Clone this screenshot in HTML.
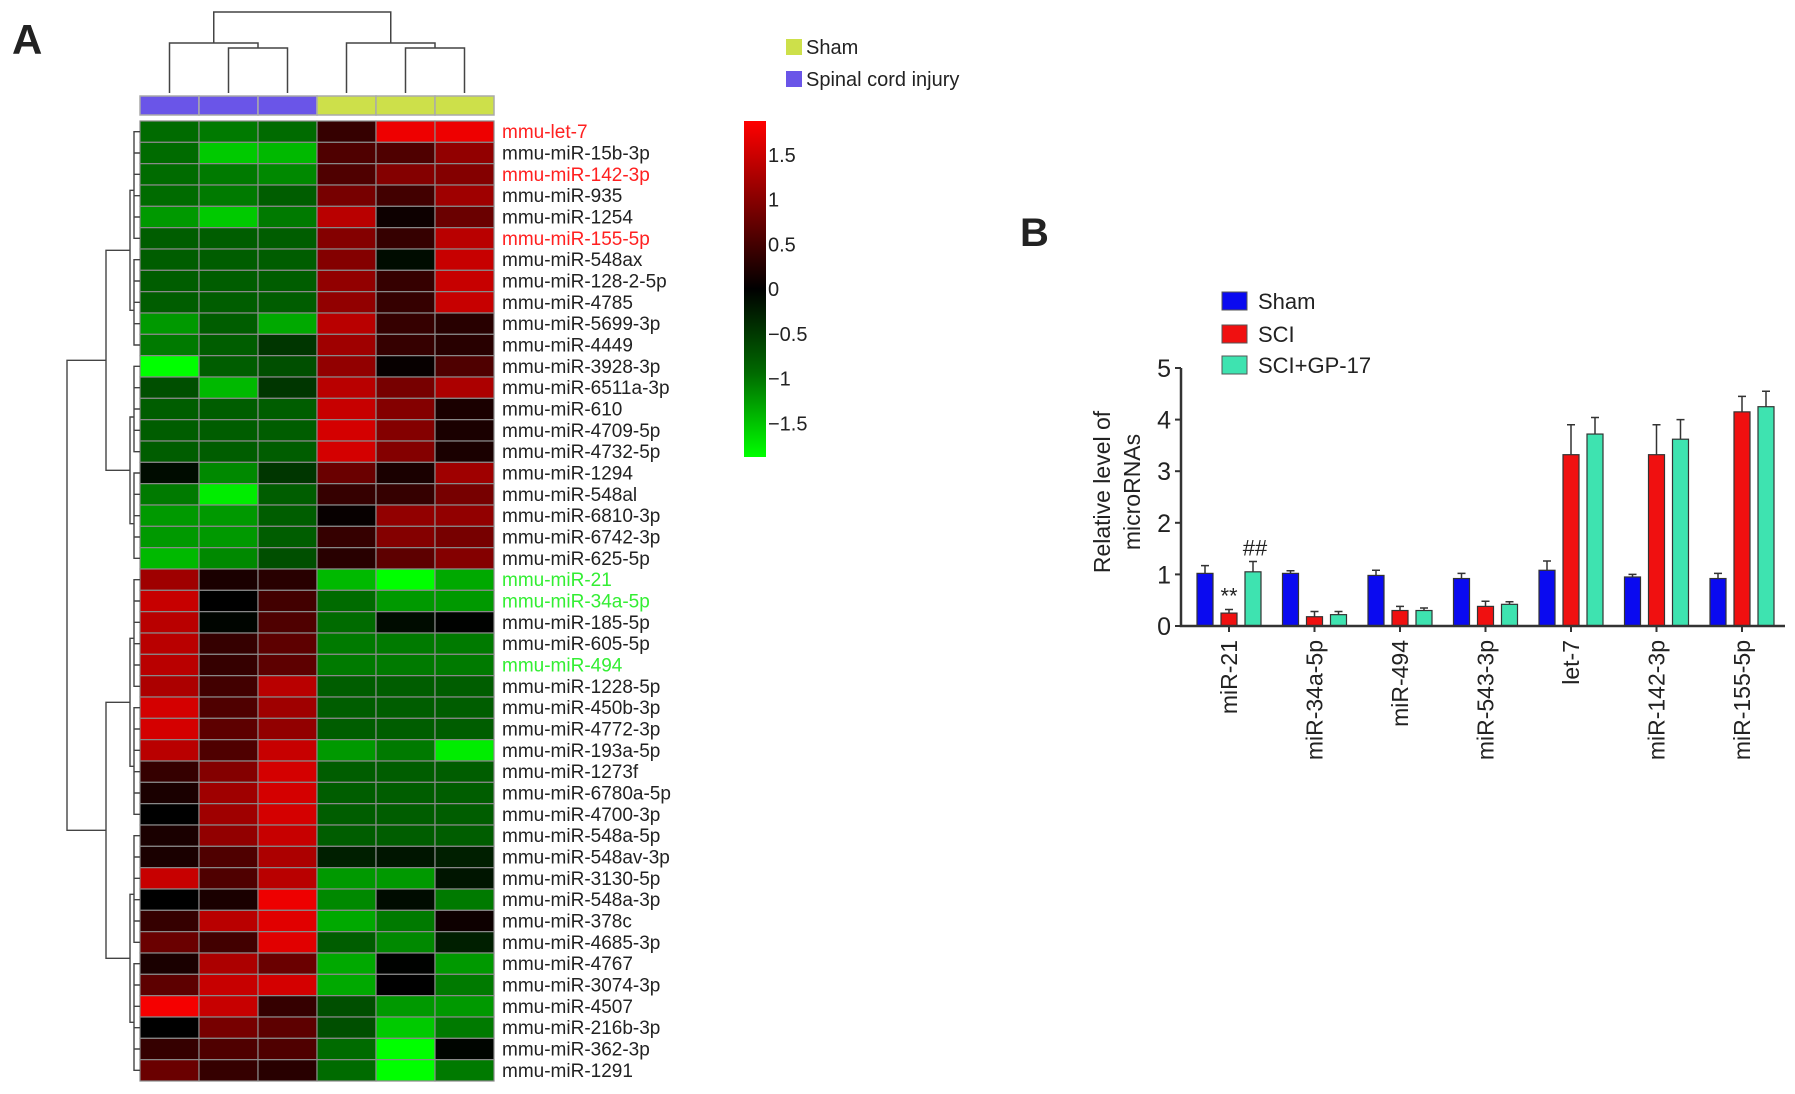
<!DOCTYPE html>
<html><head><meta charset="utf-8"><style>
body{margin:0;background:#fff;}
svg{display:block;font-family:"Liberation Sans",Arial,sans-serif;}
</style></head><body>
<svg id="fig" width="1795" height="1094" viewBox="0 0 1795 1094">
<text x="12" y="54" font-size="42" font-weight="bold" fill="#222">A</text>
<text x="1020" y="246" font-size="40" font-weight="bold" fill="#222">B</text>
<g id="heat"></g>
<g id="bars"></g>
</svg>
<script>
const NS="http://www.w3.org/2000/svg";
function mk(tag,attrs,parent,text){const e=document.createElementNS(NS,tag);for(const k in attrs)e.setAttribute(k,attrs[k]);if(text!==undefined)e.textContent=text;parent.appendChild(e);return e;}

// ---------- Heatmap data ----------
const rowLabels=["mmu-let-7","mmu-miR-15b-3p","mmu-miR-142-3p","mmu-miR-935","mmu-miR-1254","mmu-miR-155-5p","mmu-miR-548ax","mmu-miR-128-2-5p","mmu-miR-4785","mmu-miR-5699-3p","mmu-miR-4449","mmu-miR-3928-3p","mmu-miR-6511a-3p","mmu-miR-610","mmu-miR-4709-5p","mmu-miR-4732-5p","mmu-miR-1294","mmu-miR-548al","mmu-miR-6810-3p","mmu-miR-6742-3p","mmu-miR-625-5p","mmu-miR-21","mmu-miR-34a-5p","mmu-miR-185-5p","mmu-miR-605-5p","mmu-miR-494","mmu-miR-1228-5p","mmu-miR-450b-3p","mmu-miR-4772-3p","mmu-miR-193a-5p","mmu-miR-1273f","mmu-miR-6780a-5p","mmu-miR-4700-3p","mmu-miR-548a-5p","mmu-miR-548av-3p","mmu-miR-3130-5p","mmu-miR-548a-3p","mmu-miR-378c","mmu-miR-4685-3p","mmu-miR-4767","mmu-miR-3074-3p","mmu-miR-4507","mmu-miR-216b-3p","mmu-miR-362-3p","mmu-miR-1291"];
const redRows=["mmu-let-7","mmu-miR-142-3p","mmu-miR-155-5p"];
const greenRows=["mmu-miR-21","mmu-miR-34a-5p","mmu-miR-494"];
const colGroups=["SCI","SCI","SCI","Sham","Sham","Sham"];
const heatValues=[
[-1,-1.1,-1,0.4,1.8,1.8],[-1,-1.6,-1.5,0.6,0.6,1.1],[-1,-1.1,-1.2,0.6,1.0,1.0],[-1,-1.1,-0.9,0.9,0.5,1.2],
[-1.3,-1.6,-1.1,1.4,0.1,0.8],[-0.9,-0.9,-0.9,1.0,0.4,1.4],[-0.9,-0.9,-0.9,1.0,-0.2,1.5],[-0.9,-0.9,-0.9,1.1,0.4,1.5],
[-0.9,-0.9,-0.9,1.1,0.4,1.5],[-1.3,-0.9,-1.4,1.4,0.4,0.3],[-1.1,-0.9,-0.6,1.2,0.4,0.3],[-1.9,-0.9,-0.8,1.1,0.05,0.6],
[-0.8,-1.5,-0.6,1.4,0.9,1.3],[-0.9,-0.9,-0.9,1.5,1.0,0.2],[-0.9,-0.9,-0.9,1.6,1.0,0.2],[-0.9,-0.9,-0.9,1.6,1.0,0.2],
[-0.2,-1.2,-0.6,0.8,0.2,1.2],[-1.1,-1.8,-0.9,0.4,0.4,0.9],[-1.3,-1.3,-0.9,0.05,1.1,1.1],[-1.3,-1.3,-0.9,0.4,1.0,0.9],
[-1.5,-1.2,-0.8,0.3,0.7,1.0],[1.2,0.2,0.3,-1.5,-1.9,-1.4],[1.5,0.0,0.5,-1.0,-1.3,-1.3],[1.4,-0.1,0.6,-1.0,-0.2,-0.05],
[1.4,0.4,0.7,-1.1,-1.1,-1.1],[1.4,0.4,0.7,-1.1,-1.1,-1.1],[1.3,0.5,1.4,-0.9,-0.9,-0.9],[1.6,0.6,1.2,-0.9,-0.9,-0.9],
[1.6,0.7,1.1,-0.9,-0.9,-0.9],[1.4,0.6,1.5,-1.3,-1.1,-1.8],[0.4,1.0,1.6,-0.9,-0.9,-0.9],[0.2,1.2,1.6,-0.9,-0.9,-0.9],
[0.0,1.2,1.6,-0.9,-0.9,-0.9],[0.2,1.1,1.5,-0.9,-0.9,-0.9],[0.2,0.6,1.3,-0.4,-0.3,-0.4],[1.5,0.6,1.4,-1.3,-1.3,-0.3],
[0.0,0.2,1.8,-1.2,-0.2,-1.1],[0.4,1.4,1.7,-1.4,-1.1,0.1],[0.8,0.5,1.7,-0.9,-1.2,-0.4],[0.2,1.3,0.8,-1.4,-0.05,-1.3],
[0.7,1.5,1.6,-1.4,0.0,-1.1],[1.9,1.5,0.4,-0.8,-1.3,-1.3],[0.0,0.9,0.7,-0.8,-1.6,-1.1],[0.4,0.6,0.6,-1.0,-1.9,-0.1],
[0.8,0.4,0.3,-1.0,-1.9,-1.1]];
const scaleTicks=[1.5,1,0.5,0,-0.5,-1,-1.5];

// ---------- Bar data ----------
const categories=["miR-21","miR-34a-5p","miR-494","miR-543-3p","let-7","miR-142-3p","miR-155-5p"];
const shamVals=[1.02,1.02,0.98,0.92,1.08,0.95,0.92];
const shamErr=[0.15,0.05,0.1,0.1,0.18,0.05,0.1];
const sciVals=[0.25,0.18,0.3,0.38,3.32,3.32,4.15];
const sciErr=[0.07,0.1,0.08,0.1,0.58,0.58,0.3];
const gpVals=[1.05,0.22,0.3,0.42,3.72,3.62,4.25];
const gpErr=[0.2,0.06,0.05,0.05,0.32,0.38,0.3];
const yTicks=[0,1,2,3,4,5];

// ---------- Heatmap drawing ----------
const H=document.getElementById('heat');
const hx0=140,hx1=494,hy0=121,hy1=1081;
const cw=(hx1-hx0)/colGroups.length, rh=(hy1-hy0)/rowLabels.length;
function col(v){
  if(v>=0){const t=Math.min(1,v/1.85);return `rgb(${Math.round(245*t)},0,0)`;}
  const t=Math.min(1,-v/1.9);const g=Math.round(255*Math.pow(t,1.35));return `rgb(0,${g},0)`;
}
const ann={SCI:"#6a55e8",Sham:"#cde04a"};
colGroups.forEach((g,j)=>{
  const r=mk('rect',{x:hx0+j*cw,y:96,width:cw,height:19,fill:ann[g],stroke:"#aaa","stroke-width":1.5},H);
  
  
});
heatValues.forEach((row,i)=>{
  row.forEach((v,j)=>{
    const r=mk('rect',{x:hx0+j*cw,y:hy0+i*rh,width:cw,height:rh,fill:col(v),stroke:"#8a8a8a","stroke-width":1.2},H);
    
    
  });
  const lab=rowLabels[i];
  const fill=redRows.includes(lab)?"#ff2020":greenRows.includes(lab)?"#33ee33":"#222";
  const t=mk('text',{x:502,y:hy0+i*rh+rh/2+6.5,"font-size":19,fill:fill},H,lab);
  
  
});
// color scale
const gid='cg';const defs=mk('defs',{},H);const lg=mk('linearGradient',{id:gid,x1:0,y1:0,x2:0,y2:1},defs);
[[0,"#ff0000"],[0.5,"#000000"],[0.75,"#006a00"],[1,"#00ff00"]].forEach(s=>mk('stop',{offset:s[0],"stop-color":s[1]},lg));
const cb=mk('rect',{x:744,y:121,width:22,height:336,fill:`url(#${gid})`},H);


const cy=v=>289-v*89.5;
scaleTicks.forEach(v=>{
  const t=mk('text',{x:768,y:cy(v)+7,"font-size":20,fill:"#222"},H,(v<0?"\u2212":"")+Math.abs(v));
  
  
});
// annotation legend
[["Sham","#cde04a",39],["Spinal cord injury","#6a55e8",71]].forEach(d=>{
  const r=mk('rect',{x:786,y:d[2],width:16,height:16,fill:d[1]},H);
  
  
  const t=mk('text',{x:806,y:d[2]+15,"font-size":20,fill:"#222"},H,d[0]);
  
  
});
// top dendrogram
const cx=j=>hx0+cw*(j+0.5);
const dpath=[`M${cx(1)},93V48H${cx(2)}V93`,`M${cx(0)},93V43H${(cx(1)+cx(2))/2}V48`,`M${cx(4)},93V48H${cx(5)}V93`,`M${cx(3)},93V43H${(cx(4)+cx(5))/2}V48`,`M${(cx(0)+(cx(1)+cx(2))/2)/2},43V12H${(cx(3)+(cx(4)+cx(5))/2)/2}V43`].join('');
const td=mk('path',{d:dpath,fill:"none",stroke:"#444","stroke-width":1.5},H);


// left dendrogram (approximate)
const ry=i=>hy0+rh*(i+0.5);
let lp="";
function tree(a,b,depth,xroot){
  if(a===b) return ry(a);
  const m=Math.floor((a+b)/2);
  const xc=Math.min(hx0-6,xroot+18+depth*2);
  const y1=tree(a,m,depth+1,xc), y2=tree(m+1,b,depth+1,xc);
  const xa=(a===m)?hx0:Math.min(hx0-6,xc+18+(depth+1)*2);
  const xb=(m+1===b)?hx0:Math.min(hx0-6,xc+18+(depth+1)*2);
  lp+=`M${xa},${y1}H${xc}V${y2}H${xb}`;
  return (y1+y2)/2;
}
const yA=tree(0,20,2,84), yB=tree(21,44,2,84);
const xa2=Math.min(hx0-6,84+18+4);
lp+=`M${xa2},${yA}H67V${yB}H${xa2}`;
const ld=mk('path',{d:lp,fill:"none",stroke:"#444","stroke-width":1.4},H);



// ---------- Bar chart drawing ----------
const B=document.getElementById('bars');
const ax0=1181, ax1=1785, y0=626, pxPerUnit=51.6;
const Y=v=>y0-v*pxPerUnit;
const X=i=>1229+i*85.5;
const bw=16, off=24;
const series=[[shamVals,shamErr,"#0a0af0","sham",-off],[sciVals,sciErr,"#f01010","sci",0],[gpVals,gpErr,"#3ee3b0","sci-gp17",off]];
series.forEach(s=>{
  s[0].forEach((v,i)=>{
    const xc=X(i)+s[4];
    const e=mk('path',{d:`M${xc},${Y(v)}V${Y(v+s[1][i])}M${xc-4},${Y(v+s[1][i])}H${xc+4}`,stroke:"#333","stroke-width":1.5,fill:"none"},B);
    
    
    const r=mk('rect',{x:xc-bw/2,y:Y(v),width:bw,height:Y(0)-Y(v),fill:s[2],stroke:"#333","stroke-width":1.2},B);
    
    
  });
});
const axes=mk('path',{d:`M${ax0},${Y(5)}V${y0}H${ax1}`,stroke:"#333","stroke-width":2.5,fill:"none"},B);


yTicks.forEach(v=>{
  const tk=mk('path',{d:`M${ax0-6},${Y(v)}H${ax0}`,stroke:"#333","stroke-width":2},B);
  
  
  const t=mk('text',{x:ax0-10,y:Y(v)+9,"font-size":25,"text-anchor":"end",fill:"#222"},B,String(v));
  
  
});
categories.forEach((c,i)=>{
  const tk=mk('path',{d:`M${X(i)},${y0}V${y0+6}`,stroke:"#333","stroke-width":2},B);
  
  
  const t=mk('text',{x:0,y:0,"font-size":23,"text-anchor":"end",fill:"#222",transform:`translate(${X(i)+8},${y0+14}) rotate(-90)`},B,c);
  
  
});
const yt=mk('text',{x:0,y:0,"font-size":23,"text-anchor":"middle",fill:"#222",transform:`translate(1110,${492}) rotate(-90)`},B,"Relative level of");


const yt2=mk('text',{x:0,y:0,"font-size":23,"text-anchor":"middle",fill:"#222",transform:`translate(1140,${492}) rotate(-90)`},B,"microRNAs");


const s1=mk('text',{x:X(0),y:Y(sciVals[0]+sciErr[0])-6,"font-size":22,"text-anchor":"middle",fill:"#222"},B,"**");


const s2=mk('text',{x:X(0)+off+2,y:Y(gpVals[0]+gpErr[0])-6,"font-size":22,"text-anchor":"middle",fill:"#222"},B,"##");


[["Sham","#0a0af0",292],["SCI","#f01010",325],["SCI+GP-17","#3ee3b0",356]].forEach(d=>{
  const r=mk('rect',{x:1222,y:d[2],width:25,height:18,fill:d[1],stroke:"#555","stroke-width":1},B);
  
  
  const t=mk('text',{x:1258,y:d[2]+17,"font-size":22,fill:"#222"},B,d[0]);
  
  
});
</script>
</body></html>
